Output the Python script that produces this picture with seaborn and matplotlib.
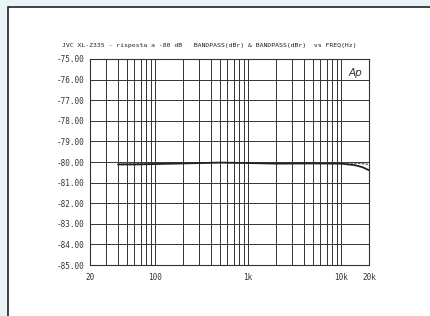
import numpy as np
import pandas as pd
import matplotlib
matplotlib.use('Agg')
import matplotlib.pyplot as plt
import seaborn as sns
from matplotlib.patches import Rectangle

# values (frequency in Hz, level in dBr)
freq = [40, 60, 100, 200, 500, 1000, 2000, 5000, 10000, 14000, 17000, 20000]
solid = [-80.12, -80.12, -80.10, -80.07, -80.03, -80.05, -80.08, -80.07, -80.08, -80.15, -80.25, -80.40]
dashed = [-80.05, -80.06, -80.07, -80.06, -80.02, -80.04, -80.07, -80.06, -80.05, -80.06, -80.08, -80.12]

xticks = [20, 100, 1000, 10000, 20000]
xlabels = ['20', '100', '1k', '10k', '20k']
yticks = [-75, -76, -77, -78, -79, -80, -81, -82, -83, -84, -85]

df = pd.DataFrame({'freq': freq * 2, 'level': solid + dashed,
                   'trace': ['a'] * len(freq) + ['b'] * len(freq)})

sns.set_style('white')
plt.rcParams['font.family'] = ['DejaVu Sans Mono']

fig = plt.figure(figsize=(4.3, 3.16), dpi=100)
fig.patch.set_facecolor('#e9f4f7')
fig.patches.append(Rectangle((8 / 430, -0.01), 1.0, 1 - 7 / 316 + 0.01,
                             transform=fig.transFigure, facecolor='white',
                             edgecolor='#222222', linewidth=1.2, zorder=-5))

ax = fig.add_axes([90 / 430, 1 - 265 / 316, 279 / 430, 206 / 316])
ax.set_zorder(2)
sns.lineplot(data=df[df.trace == 'b'], x='freq', y='level', ax=ax,
             color='#555555', linewidth=0.9, linestyle=(0, (2, 1)))
sns.lineplot(data=df[df.trace == 'a'], x='freq', y='level', ax=ax,
             color='#222222', linewidth=1.3)
ax.set_xscale('log')
ax.set_xlim(20, 20000)
ax.set_ylim(-85, -75)

minor = [m * d for d in [10, 100, 1000] for m in range(2, 10)]
minor = [v for v in minor if 20 < v < 20000]
for v in minor + [100, 1000, 10000]:
    ax.axvline(v, color='#333333', linewidth=0.7, zorder=0.5)
for v in yticks[1:-1]:
    ax.axhline(v, color='#333333', linewidth=0.7, zorder=0.5)

ax.set_xticks(xticks)
ax.set_xticklabels(xlabels)
ax.xaxis.set_minor_locator(matplotlib.ticker.NullLocator())
ax.set_yticks(yticks)
ax.set_yticklabels(['%.2f' % v for v in yticks])
ax.tick_params(labelsize=5.5, length=0, pad=4, colors='#333333')
ax.tick_params(axis='x', pad=6)
ax.set_xlabel('')
ax.set_ylabel('')
for s in ax.spines.values():
    s.set_color('#333333')
    s.set_linewidth(0.8)

fig.text(62 / 430, 1 - 46 / 316,
         'JVC XL-Z335 - risposta a -80 dB   BANDPASS(dBr) & BANDPASS(dBr)  vs FREQ(Hz)',
         fontsize=4.65, color='#222222', va='center', ha='left')
ax.text(0.975, 0.955, 'Ap', transform=ax.transAxes, fontsize=7.5, style='italic',
        ha='right', va='top', color='#333333', family='DejaVu Sans')

fig.savefig('out.png', dpi=100, facecolor=fig.get_facecolor())
